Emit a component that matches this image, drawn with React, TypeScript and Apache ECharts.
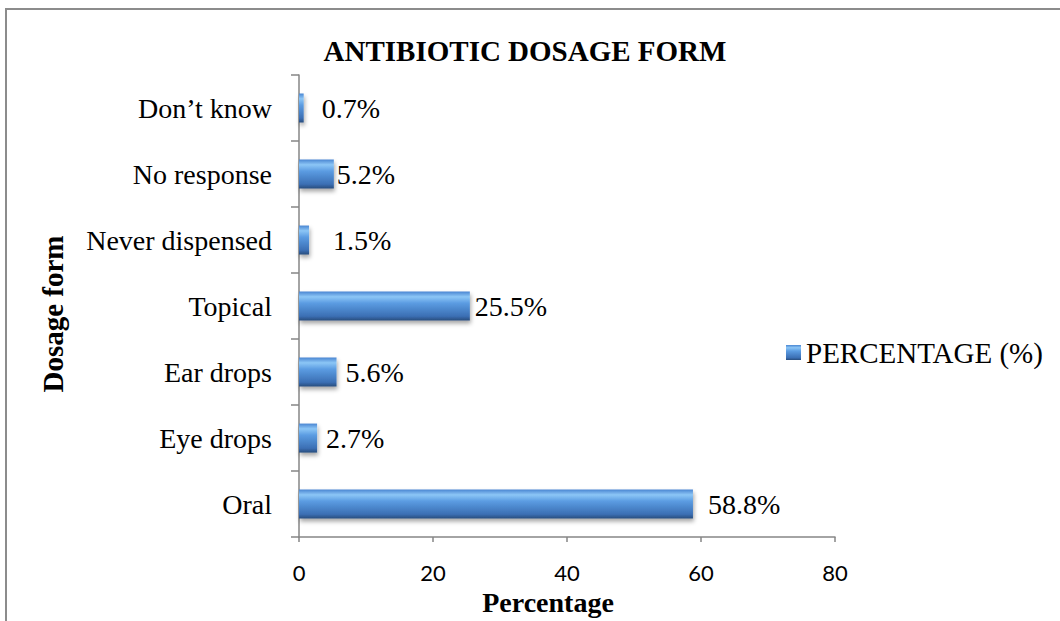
import React, { useEffect, useRef } from "react";
import * as echarts from "echarts";

const categories = ["Oral", "Eye drops", "Ear drops", "Topical", "Never dispensed", "No response", "Don’t know"];
const percentages = [58.8, 2.7, 5.6, 25.5, 1.5, 5.2, 0.7];
const seriesName = "PERCENTAGE (%)";
const yAxisTitle = "Dosage form";
const xTicks = { min: 0, max: 80, interval: 20 };
// per-bar gap between bar end and its value label (style only)
const labelGaps = [15, 9, 9, 5, 24, 3, 18];

export default function App() {
  const ref = useRef<HTMLDivElement>(null);
  useEffect(() => {
    document.body.style.margin = "0";
    const chart = echarts.init(ref.current!, null, { renderer: "svg" });
    const serif = "Liberation Serif, Times New Roman, serif";
    const barGradient = new echarts.graphic.LinearGradient(0, 0, 0, 1, [
      { offset: 0, color: "#4a86d2" },
      { offset: 0.18, color: "#8cc6f6" },
      { offset: 0.4, color: "#5b9ce2" },
      { offset: 0.85, color: "#3b6fb4" },
      { offset: 1, color: "#284c7c" },
    ]);
    chart.setOption({
      animation: false,
      backgroundColor: "#ffffff",
      title: {
        text: "ANTIBIOTIC DOSAGE FORM",
        left: 520,
        textAlign: "center",
        top: 31,
        textStyle: { fontFamily: serif, fontSize: 29, fontWeight: "bold", color: "#000" },
      },
      graphic: [
        {
          type: "rect",
          shape: { x: 6, y: 9, width: 1200, height: 800 },
          style: { fill: "none", stroke: "#8c8c8c", lineWidth: 2 },
          silent: true,
        },
        {
          type: "text",
          x: 53,
          y: 314,
          rotation: Math.PI / 2,
          silent: true,
          style: {
            text: yAxisTitle,
            fontFamily: serif,
            fontSize: 29,
            fontWeight: "bold",
            fill: "#000",
            align: "center",
            verticalAlign: "middle",
          },
        },
      ],
      legend: {
        left: 781,
        top: 333,
        itemWidth: 15,
        itemHeight: 15,
        icon: "rect",
        textStyle: { fontFamily: serif, fontSize: 29, color: "#000" },
        data: [seriesName],
      },
      grid: { left: 299, right: 225, top: 75, bottom: 69, containLabel: false },
      xAxis: {
        type: "value",
        min: xTicks.min,
        max: xTicks.max,
        interval: xTicks.interval,
        name: "Percentage",
        nameLocation: "middle",
        nameGap: 48,
        nameTextStyle: {
          fontFamily: serif,
          fontSize: 28,
          fontWeight: "bold",
          color: "#000",
          padding: [0, 38, 0, 0],
        },
        axisLine: { show: true, lineStyle: { color: "#868686", width: 1.5 } },
        axisTick: { show: true, length: 5, lineStyle: { color: "#868686", width: 1.5 } },
        axisLabel: { margin: 24, fontFamily: "Lato, Carlito, sans-serif", fontSize: 22, color: "#000" },
        splitLine: { show: false },
      },
      yAxis: {
        type: "category",
        data: categories,
        axisLine: { show: true, lineStyle: { color: "#868686", width: 1.5 } },
        axisTick: { show: true, length: 8, lineStyle: { color: "#868686", width: 1.5 } },
        axisLabel: { margin: 27, fontFamily: serif, fontSize: 28, color: "#000" },
      },
      series: [
        {
          name: seriesName,
          type: "bar",
          data: percentages.map((v, i) => ({ value: v, label: { distance: labelGaps[i] } })),
          barWidth: 29,
          itemStyle: {
            color: barGradient,
            shadowColor: "rgba(0,0,0,0.35)",
            shadowBlur: 4,
            shadowOffsetY: 3,
            shadowOffsetX: 1,
          },
          label: {
            show: true,
            position: "right",
            formatter: (p: any) => `${p.value}%`,
            fontFamily: serif,
            fontSize: 28,
            color: "#000",
          },
        },
      ],
    });
    return () => chart.dispose();
  }, []);
  return <div ref={ref} style={{ width: 1060, height: 621 }} />;
}
